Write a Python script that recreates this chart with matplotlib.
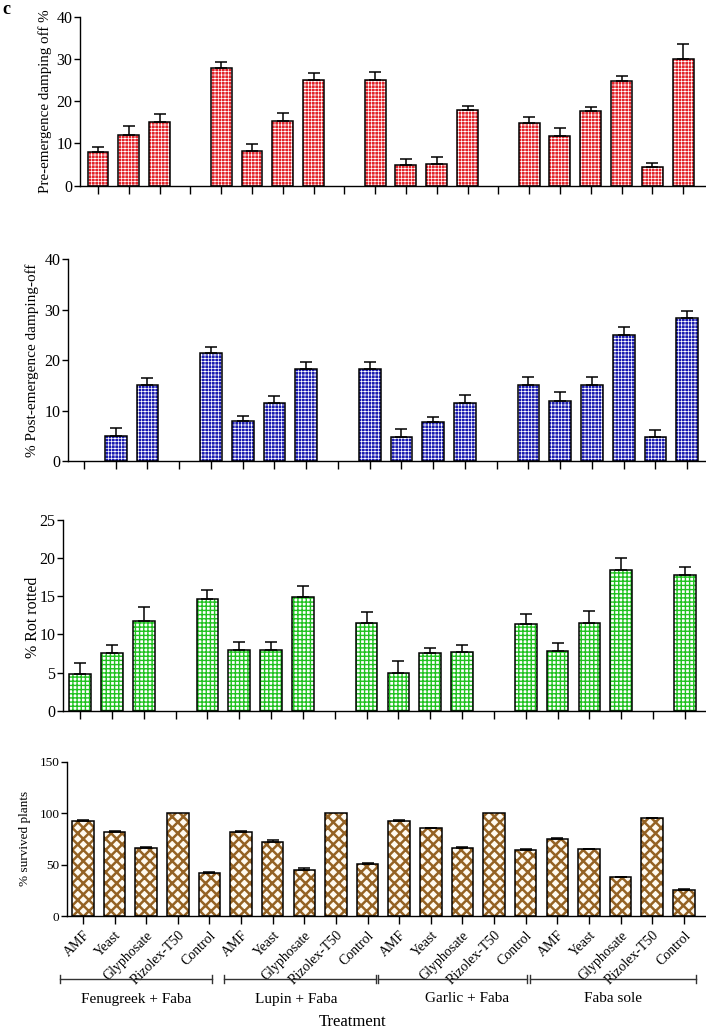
import matplotlib
matplotlib.use('Agg')
import matplotlib.pyplot as plt
import numpy as np
from matplotlib.transforms import blended_transform_factory

W, H = 706, 1032
plt.rcParams['font.family'] = ['Liberation Serif', 'DejaVu Serif']

# ---------------- data ----------------
treatments = ['AMF', 'Yeast', 'Glyphosate', 'Rizolex-T50', 'Control']
groups = ['Fenugreek + Faba', 'Lupin + Faba', 'Garlic + Faba', 'Faba sole']

pre_mean = [7.9, 12.1, 15.1, 0, 27.9, 8.3, 15.2, 24.9, 0, 25.1,
            4.8, 5.1, 17.8, 0, 14.8, 11.8, 17.7, 24.8, 4.4, 30.1]
pre_err = [1.3, 2.1, 1.8, 0, 1.3, 1.5, 2.1, 1.7, 0, 1.7,
           1.5, 1.7, 1.1, 0, 1.4, 1.8, 0.9, 1.2, 0.9, 3.4]

post_mean = [0, 5.0, 15.0, 0, 21.4, 7.9, 11.5, 18.2, 0, 18.2,
             4.8, 7.8, 11.5, 0, 15.0, 11.8, 15.0, 25.0, 4.7, 28.3]
post_err = [0, 1.5, 1.5, 0, 1.2, 1.1, 1.4, 1.4, 0, 1.4,
            1.5, 0.9, 1.6, 0, 1.7, 1.8, 1.7, 1.6, 1.5, 1.4]

rot_mean = [4.8, 7.6, 11.8, 0, 14.6, 7.9, 7.9, 14.9, 0, 11.5,
            5.0, 7.5, 7.7, 0, 11.4, 7.8, 11.5, 18.4, 0, 17.8]
rot_err = [1.5, 1.0, 1.8, 0, 1.2, 1.15, 1.1, 1.5, 0, 1.5,
           1.55, 0.7, 0.9, 0, 1.3, 1.1, 1.6, 1.6, 0, 1.0]

surv_mean = [92.3, 82.0, 66.0, 100, 41.8, 82.0, 72.6, 45.4, 100, 51.2,
             92.3, 85.5, 66.7, 100, 64.8, 75.5, 65.1, 37.9, 95.2, 25.3]
surv_err = [1.5, 1.0, 1.5, 0, 1.5, 1.0, 2.0, 1.5, 0, 0.7,
            1.0, 0.7, 0.3, 0, 0.6, 0.7, 0.6, 0.5, 0.8, 1.6]

tick_labels = treatments * len(groups)

# ---------------- figure ----------------
fig = plt.figure(figsize=(W / 100, H / 100), dpi=100)


def add_ax(left, top, right, bottom):
    return fig.add_axes([left / W, 1 - bottom / H, (right - left) / W, (bottom - top) / H])


def draw_bars(ax, vals, errs, face, hatch, hcolor, hlw, width=0.68):
    x = np.arange(len(vals))
    v = np.array(vals, dtype=float)
    e = np.array(errs, dtype=float)
    with plt.rc_context({'hatch.linewidth': hlw}):
        bars = ax.bar(x, v, width=width, color=face, edgecolor=hcolor,
                      linewidth=0, hatch=hatch, zorder=2)
        for b in bars:
            if hasattr(b, 'set_hatch_linewidth'):
                b.set_hatch_linewidth(hlw)
    outl = ax.bar(x, v, width=width, fill=False, edgecolor='black', linewidth=1.1, zorder=3)
    for b, h in zip(outl, v):
        if h == 0:
            b.set_visible(False)
    m = e > 0
    ax.errorbar(x[m], v[m], yerr=[np.zeros(m.sum()), e[m]], fmt='none',
                ecolor='black', elinewidth=1.1, capsize=4.3, capthick=1.1, zorder=4)


def style(ax, ylim, yticks, xl, xr, fs):
    ax.set_xlim(xl, xr)
    ax.set_ylim(*ylim)
    ax.set_yticks(yticks)
    ax.set_xticks(np.arange(20))
    for s in ['top', 'right']:
        ax.spines[s].set_visible(False)
    for s in ['left', 'bottom']:
        ax.spines[s].set_linewidth(1.0)
    ax.tick_params(axis='y', length=4.5, width=1.0, pad=1, labelsize=fs)
    ax.tick_params(axis='x', length=6, width=1.0)


# Panel 1: pre-emergence
ax1 = add_ax(80, 16.7, 705, 185.7)
draw_bars(ax1, pre_mean, pre_err, '#e2222a', '+++++', 'white', 0.5)
style(ax1, (0, 40), [0, 10, 20, 30, 40], -0.584, 19.71, 11.5)
ax1.set_xticklabels([])

# Panel 2: post-emergence
ax2 = add_ax(68, 259.3, 705, 461)
draw_bars(ax2, post_mean, post_err, '#1a1ab0', '+++++', 'white', 0.5)
style(ax2, (0, 40), [0, 10, 20, 30, 40], -0.504, 19.56, 11.5)
ax2.set_xticklabels([])

# Panel 3: rot rotted
ax3 = add_ax(63, 520, 705, 710.7)
draw_bars(ax3, rot_mean, rot_err, 'white', '++++', '#1fc21f', 1.0)
style(ax3, (0, 25), [0, 5, 10, 15, 20, 25], -0.534, 19.63, 11.5)
ax3.set_xticklabels([])

# Panel 4: survived plants
ax4 = add_ax(67, 762, 706, 916.3)
draw_bars(ax4, surv_mean, surv_err, '#fffaf0', 'xxx', '#946224', 1.8)
style(ax4, (0, 150), [0, 50, 100, 150], -0.506, 19.7, 9.5)
ax4.set_xticklabels(tick_labels, rotation=45, ha='right', va='top',
                    rotation_mode='anchor', fontsize=10)
ax4.tick_params(axis='x', pad=3)

# group brackets
trans = blended_transform_factory(ax4.transData, fig.transFigure)
spans = [(-0.73, 4.08), (4.46, 9.26), (9.33, 14.04), (14.13, 19.38)]
label_px = [136.5, 296, 467, 613]
yb = 1 - 979 / H
cap = 4 / H
for (s, e), g, lx in zip(spans, groups, label_px):
    ax4.plot([s, e], [yb, yb], transform=trans, color='#333333', lw=1.0, clip_on=False)
    for xx in (s, e):
        ax4.plot([xx, xx], [yb - cap, yb + cap], transform=trans, color='#333333',
                 lw=1.0, clip_on=False)
    fig.text(lx / W, 1 - 999 / H, g, ha='center', va='center', fontsize=11)

fig.text(353 / W, 1 - 1022 / H, 'Treatment', ha='center', va='center', fontsize=12)

# y labels
fig.text(45 / W, 1 - 101 / H, 'Pre-emergence damping off %', rotation=90,
         ha='center', va='center', fontsize=10.8)
fig.text(32 / W, 1 - 360 / H, '% Post-emergence damping-off', rotation=90,
         ha='center', va='center', fontsize=11)
fig.text(33 / W, 1 - 617 / H, '% Rot rotted', rotation=90,
         ha='center', va='center', fontsize=11.5)
fig.text(25 / W, 1 - 838 / H, '% survived plants', rotation=90,
         ha='center', va='center', fontsize=9.5)

fig.text(6 / W, 1 - 10 / H, 'c', ha='center', va='center', fontsize=13, fontweight='bold')

fig.savefig('out.png', dpi=100)
